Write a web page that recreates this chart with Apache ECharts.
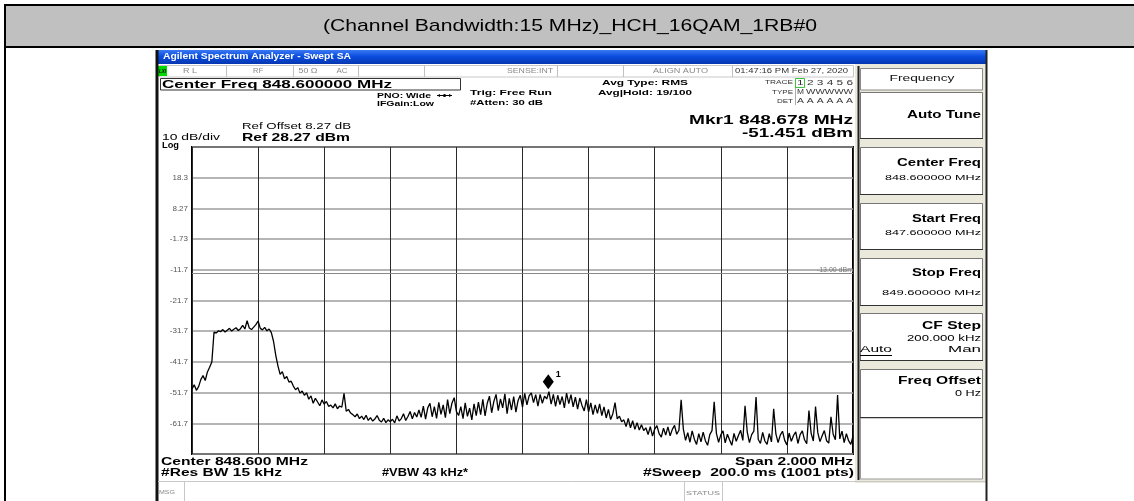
<!DOCTYPE html>
<html>
<head>
<meta charset="utf-8">
<script src="https://cdn.jsdelivr.net/npm/echarts@6.0.0/dist/echarts.min.js"></script>
<style>
html,body{margin:0;padding:0;background:#fff;}
#chart{width:1134px;height:501px;}
</style>
</head>
<body>
<div id="chart"></div>
<script>
// ---------------- data ----------------
const pageTitle = '(Channel Bandwidth:15 MHz)_HCH_16QAM_1RB#0';
const startMHz = 847.6;
const stopMHz = 849.6;
const refLevel = 28.27;
const bottomLevel = -71.73;
const dbPerDiv = 10;
const limitDbm = -13;
const markerFreq = 848.678;
const markerLevel = -51.451;
// trace levels (dBm), evenly spaced sweep points from startMHz to stopMHz
const traceLevels = [
 -50.5,-49.2,-51.0,-49.8,-47.5,-46.2,-47.8,-45.0,-43.5,-41.8,
 -32.0,
 -32.3,-31.6,-31.9,-31.2,-32.0,-31.4,-30.8,-31.7,-31.1,-30.6,-31.5,-30.9,-29.8,-31.0,-28.3,-30.7,-31.2,-30.4,-29.6,-28.4,-30.8,-31.3,-30.5,-31.6,-31.0,-32.2,
 -35.0,-39.5,-43.0,-45.8,-44.9,-47.2,-46.5,-48.3,-48.0,-49.6,
 -50.8,-50.1,-51.9,-51.2,-52.6,-51.8,
 -53.9,-52.8,-55.2,-53.6,-54.8,-56.0,-54.1,-55.5,-54.6,-56.2,
 -55.8,-56.7,-55.4,-57.0,-56.1,-56.5,-52.0,-57.8,-57.2,-58.4,
 -58.9,-59.6,-58.7,-60.2,-59.4,-60.5,-59.1,-60.8,-59.9,-61.0,-60.3,-59.2,-60.7,-61.3,-60.1,-61.5,-60.6,-61.2,
 -60.4,-61.6,-59.3,-61.0,-60.2,-58.6,-60.8,-59.5,-57.9,-60.3,-58.2,-59.7,-57.4,
 -59.8,-56.1,-60.4,-56.7,-55.2,-59.6,-56.3,-60.1,-54.9,-58.8,-55.7,-59.9,-54.0,-58.6,-55.1,-53.4,-57.9,-59.2,
 -56.3,-60.2,-55.1,-59.5,-56.8,-60.6,-55.4,-59.2,-54.8,-58.9,-53.9,-59.3,-55.2,-52.9,-58.3,-54.6,-52.3,-57.6,-53.8,
 -56.7,-52.1,-58.6,-53.6,-57.4,-53.0,-58.1,-54.3,-52.6,-56.5,-52.0,-55.7,-52.8,-51.8,-55.0,-52.4,-56.1,-52.3,-55.2,-52.9,
 -53.8,-51.4,
 -55.5,-52.3,-56.2,-52.6,-55.6,-53.0,-56.7,-51.9,-55.3,-52.4,-56.4,-53.2,-57.1,-53.5,-55.9,-57.7,-54.0,-58.0,-55.1,-58.9,-55.7,-58.5,-55.4,
 -59.2,-56.4,-60.0,-57.2,-60.5,-58.6,-55.0,
 -60.3,-59.4,-61.2,-60.6,-62.8,-60.1,-63.2,-60.9,-63.7,-61.5,-63.9,-62.2,-64.1,
 -63.2,-65.4,-62.8,-65.9,-63.6,-62.5,-65.1,-66.2,-63.3,-65.6,-62.9,-65.8,-63.7,-62.4,-65.3,
 -64.0,-54.1,-63.6,
 -67.3,-64.8,-67.9,-64.2,-66.9,-68.6,-65.1,-67.8,-64.6,-67.4,-68.9,-65.4,-64.1,
 -54.7,
 -65.0,-67.9,-65.5,-64.2,-68.1,-65.3,-67.2,-68.9,-65.0,-67.6,-65.7,-64.0,-67.3,
 -56.0,
 -64.6,-68.0,-65.4,-64.3,
 -53.2,
 -67.0,-68.3,-64.7,-67.5,-68.6,-65.1,-67.8,
 -57.0,
 -65.2,-68.0,-65.6,-64.3,-67.3,-68.8,-64.9,-67.6,-65.7,-64.5,-68.3,-65.4,-64.2,-67.1,-68.4,
 -57.6,
 -65.0,-67.5,
 -56.3,
 -64.7,-67.7,-65.8,-64.1,-67.4,-68.2,
 -59.6,
 -65.3,-67.1,
 -52.5,
 -66.8,-64.3,-68.0,-65.1,-67.4,-68.6,-65.9
];
const softkeys = [
  {label:'Auto Tune', value:''},
  {label:'Center Freq', value:'848.600000 MHz'},
  {label:'Start Freq', value:'847.600000 MHz'},
  {label:'Stop Freq', value:'849.600000 MHz'},
  {label:'CF Step', value:'200.000 kHz'},
  {label:'Freq Offset', value:'0 Hz'}
];

// ---------------- helpers ----------------
const FF = '"Liberation Sans", Arial, sans-serif';
const mctx = document.createElement('canvas').getContext('2d');
function measure(str, font){ mctx.font = font; return mctx.measureText(str).width; }
function T(str, x, y, size, o){
  o = o || {};
  const weight = o.bold ? 'bold' : 'normal';
  const fst = o.italic ? 'italic ' : '';
  let sx = 1;
  if (o.w) { sx = o.w / measure(str, fst + weight + ' ' + size + 'px ' + FF); }
  return {type:'text', x:x, y:y, scaleX:sx, silent:true, z:20,
    style:{text:str, fontSize:size, fontWeight:weight, fontStyle:o.italic?'italic':'normal',
      fontFamily:FF, fill:o.color||'#000', align:o.align||'left', verticalAlign:'middle'}};
}
function R(x, y, w, h, fill, stroke, lw, z){
  return {type:'rect', shape:{x:x, y:y, width:w, height:h}, silent:true, z:z==null?5:z,
    style:{fill:fill||'none', stroke:stroke||'none', lineWidth:lw||1}};
}
function L(x1, y1, x2, y2, c, lw, z){
  return {type:'line', shape:{x1:x1, y1:y1, x2:x2, y2:y2}, silent:true, z:z==null?15:z,
    style:{stroke:c, lineWidth:lw||1}};
}

// ---------------- chrome ----------------
const g = [];
// document table header
g.push(R(4, 4, 1130, 43, '#c0c0c0', null, 1, 1));
g.push(L(4, 5, 1134, 5, '#000', 2));
g.push(L(4, 47, 1134, 47, '#000', 2));
g.push(L(5, 4, 5, 501, '#000', 2));
g.push(T(pageTitle, 570, 26, 17, {align:'center', w:494}));

// screenshot frame
g.push(L(157, 50, 157, 501, '#111', 3));
g.push(L(986.5, 50, 986.5, 501, '#222', 2));
g.push({type:'rect', shape:{x:156, y:50, width:831, height:14}, silent:true, z:5,
  style:{fill:new echarts.graphic.LinearGradient(0,0,0,1,[
    {offset:0, color:'#3a78f2'},{offset:0.45, color:'#0b4ee0'},{offset:1, color:'#0636b0'}])}});
g.push(T('Agilent Spectrum Analyzer - Swept SA', 163, 57, 8.5, {bold:true, color:'#fff', w:188}));

// status row
g.push(R(159.5, 65.5, 694, 11.5, '#fff', '#c8c8c8', 1, 5));
[226, 293, 358, 424, 557, 623, 732].forEach(x => g.push(L(x+0.5, 65.5, x+0.5, 77, '#c0c0c0', 1)));
g.push(R(158, 66, 9, 10, '#00d800', null, 1, 6));
g.push(T('LXI', 159, 71.5, 6, {bold:true, italic:true, w:7}));
const sg = '#8a8a8a';
g.push(T('R L', 190, 71.5, 6.5, {align:'center', color:sg, w:14}));
g.push(T('RF', 258, 71.5, 6.5, {align:'center', color:sg, w:10}));
g.push(T('50 Ω', 308, 71.5, 6.5, {align:'center', color:sg, w:19}));
g.push(T('AC', 342, 71.5, 6.5, {align:'center', color:sg, w:11}));
g.push(T('SENSE:INT', 507, 71.5, 6.5, {color:sg, w:46}));
g.push(T('ALIGN AUTO', 653, 71.5, 6.5, {color:sg, w:55}));
g.push(T('01:47:16 PM Feb 27, 2020', 735, 71.5, 6.5, {color:'#333', w:113}));

// measurement header
g.push(R(160.5, 78.5, 300, 11.5, 'none', '#333', 1, 6));
g.push(T('Center Freq 848.600000 MHz', 162, 85, 11.5, {bold:true, w:230}));
g.push(T('PNO: Wide', 377, 95.5, 7.5, {bold:true, w:54}));
g.push(L(437, 95.5, 452, 95.5, '#000', 1));
g.push({type:'circle', shape:{cx:444.5, cy:95.5, r:1.6}, style:{fill:'#000'}, silent:true, z:16});
g.push({type:'polygon', shape:{points:[[437,95.5],[440,94],[440,97]]}, style:{fill:'#000'}, silent:true, z:16});
g.push({type:'polygon', shape:{points:[[452,95.5],[449,94],[449,97]]}, style:{fill:'#000'}, silent:true, z:16});
g.push(T('IFGain:Low', 377, 104, 7.5, {bold:true, w:57}));
g.push(T('Trig: Free Run', 470, 93, 8, {bold:true, w:82}));
g.push(T('#Atten: 30 dB', 470, 103, 8, {bold:true, w:73}));
g.push(T('Avg Type: RMS', 602, 83, 8, {bold:true, w:86}));
g.push(T('Avg|Hold: 19/100', 598, 93, 8, {bold:true, w:94}));
g.push(T('TRACE', 793, 82.5, 6, {align:'right', color:'#333', w:28}));
g.push(T('TYPE', 793, 92, 6, {align:'right', color:'#333', w:21}));
g.push(T('DET', 793, 101.5, 6, {align:'right', color:'#333', w:16}));
g.push(L(795.5, 79, 795.5, 105, '#aaa', 1));
g.push(R(795.5, 78.5, 9, 9, 'none', '#39c439', 1, 16));
g.push(T('1 2 3 4 5 6', 797, 83, 7, {color:'#333', w:56}));
g.push(T('M', 797, 92.5, 6.5, {color:'#333', w:7}));
g.push(T('WWWWW', 806, 92.5, 6.5, {color:'#333', w:47}));
g.push(T('A A A A A A', 797, 101.5, 6.5, {color:'#333', w:56}));
g.push(T('Mkr1 848.678 MHz', 853, 120, 13, {bold:true, align:'right', w:164}));
g.push(T('-51.451 dBm', 853, 133, 13, {bold:true, align:'right', w:111}));
g.push(T('Ref Offset 8.27 dB', 242, 127, 9, {w:109}));
g.push(T('Ref 28.27 dBm', 242, 137.5, 11, {bold:true, w:108}));
g.push(T('10 dB/div', 162, 138, 9, {w:58}));
g.push(T('Log', 162, 145.5, 9, {bold:true, w:17}));

// footer
g.push(T('Center 848.600 MHz', 161, 462.7, 10, {bold:true, w:147}));
g.push(T('#Res BW 15 kHz', 161, 473.3, 10, {bold:true, w:121}));
g.push(T('#VBW 43 kHz*', 382, 473.3, 10, {bold:true, w:86}));
g.push(T('Span 2.000 MHz', 853, 462.7, 10, {bold:true, align:'right', w:118}));
g.push(T('#Sweep  200.0 ms (1001 pts)', 854, 473.3, 10, {bold:true, align:'right', w:211}));
g.push(L(158, 481.5, 985, 481.5, '#c8c8c8', 1));
g.push(L(184.5, 482, 184.5, 501, '#c8c8c8', 1));
g.push(L(684.5, 482, 684.5, 501, '#c8c8c8', 1));
g.push(L(722.5, 482, 722.5, 501, '#c8c8c8', 1));
g.push(T('MSG', 159, 492.5, 5.5, {color:sg, w:16}));
g.push(T('STATUS', 686, 493, 5.5, {color:sg, w:34}));

// softkey panel
g.push(R(855, 64, 131, 419, '#ebe8dc', null, 1, 3));
g.push(L(858.5, 66, 858.5, 480, '#222', 2));
g.push(R(860.5, 68.5, 122, 21.5, '#fff', '#8a8a8a', 1, 6));
g.push(T('Frequency', 922, 79, 9, {align:'center', color:'#111', w:65}));
const keyTops = [92, 147, 203, 258, 313, 369];
const keyH = [46, 47, 46, 47, 47, 48];
softkeys.forEach((k, i) => {
  const y = keyTops[i];
  g.push(R(860.5, y + 0.5, 122, keyH[i], '#fff', '#777', 1, 6));
  g.push(L(860, y + keyH[i] + 0.5, 983, y + keyH[i] + 0.5, '#333', 1.2));
});
g.push(R(860.5, 418, 122, 61, '#fff', '#999', 1, 6));
g.push(T('Auto Tune', 981, 115, 10, {bold:true, align:'right', w:74}));
g.push(T('Center Freq', 981, 163, 10, {bold:true, align:'right', w:84}));
g.push(T('848.600000 MHz', 981, 178, 8, {align:'right', w:96}));
g.push(T('Start Freq', 981, 219, 10, {bold:true, align:'right', w:69}));
g.push(T('847.600000 MHz', 981, 233, 8, {align:'right', w:96}));
g.push(T('Stop Freq', 981, 273, 10, {bold:true, align:'right', w:69}));
g.push(T('849.600000 MHz', 981, 292.7, 8, {align:'right', w:99}));
g.push(T('CF Step', 981, 326, 10, {bold:true, align:'right', w:59}));
g.push(T('200.000 kHz', 981, 338.5, 8.5, {align:'right', w:74}));
g.push(T('Auto', 860, 350, 8.5, {w:32}));
g.push(L(860, 355.5, 892, 355.5, '#000', 1));
g.push(T('Man', 981, 350, 8.5, {align:'right', w:33}));
g.push(T('Freq Offset', 981, 381, 10, {bold:true, align:'right', w:83}));
g.push(T('0 Hz', 981, 393.5, 8.5, {align:'right', w:26}));

// ---------------- chart ----------------
const nPts = traceLevels.length;
const stepMHz = (stopMHz - startMHz) / (nPts - 1);
const traceData = traceLevels.map((v, i) => [startMHz + i * stepMHz, v]);

const chart = echarts.init(document.getElementById('chart'), null, {renderer:'canvas'});
chart.setOption({
  backgroundColor:'#fff',
  animation:false,
  graphic:{elements:g},
  grid:{left:192, top:147, width:661, height:307, show:true, borderColor:'#000', borderWidth:2, backgroundColor:'transparent'},
  xAxis:{type:'value', min:startMHz, max:stopMHz, interval:0.2,
    axisLine:{show:false}, axisTick:{show:false}, axisLabel:{show:false},
    splitLine:{show:true, lineStyle:{color:'#2a2a2a', width:1}}},
  yAxis:{type:'value', min:bottomLevel, max:refLevel, interval:dbPerDiv,
    axisLine:{show:false}, axisTick:{show:false},
    axisLabel:{fontSize:8, color:'#555', margin:4, fontFamily:FF,
      formatter:function(v){
        if (Math.abs(v - refLevel) < 0.01 || Math.abs(v - bottomLevel) < 0.01) return '';
        return Number(v).toPrecision(3);
      }},
    splitLine:{show:true, lineStyle:{color:'#9c9c9c', width:1.5}}},
  series:[{
    type:'line', data:traceData, symbol:'none', showSymbol:false,
    lineStyle:{color:'#000', width:1.3}, z:5,
    markLine:{silent:true, symbol:'none', animation:false,
      lineStyle:{color:'#888', width:1, type:'solid'},
      label:{show:true, position:'insideEndTop', distance:[0, 0], formatter:'-13.00 dBm', fontSize:7, color:'#777'},
      data:[{yAxis:limitDbm}]},
    markPoint:{silent:true, animation:false, symbol:'diamond', symbolSize:[11,15], symbolOffset:[0,-10],
      itemStyle:{color:'#000'},
      label:{show:true, formatter:'1', position:'right', distance:2, offset:[0,-7], fontSize:9, fontWeight:'bold', color:'#000'},
      data:[{coord:[markerFreq, markerLevel]}]}
  }]
});
</script>
</body>
</html>
